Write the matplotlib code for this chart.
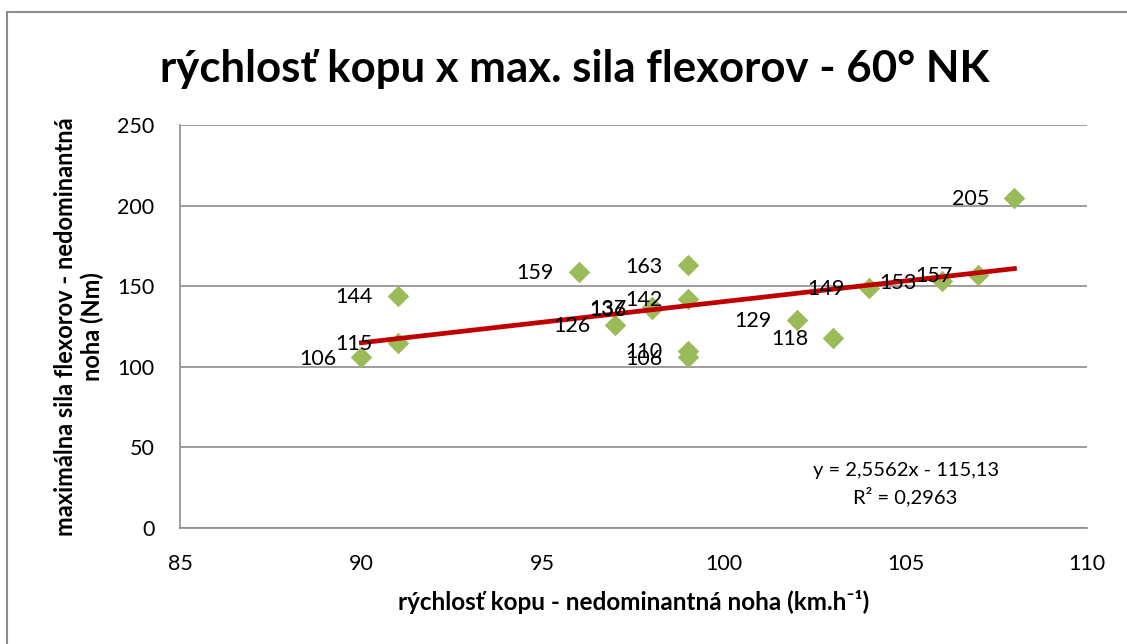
#!/usr/bin/env python3
# scatter: kick speed vs max flexor force, 60 deg, non-dominant leg

import numpy as np
import matplotlib.pyplot as plt
from matplotlib.patches import Rectangle

plt.rcParams['font.family'] = ['Lato', 'DejaVu Sans']

speed = [90, 91, 91, 96, 97, 98, 98, 99, 99, 99, 99, 102, 103, 104, 106, 107, 108]
force = [106, 115, 144, 159, 126, 136, 137, 142, 163, 110, 106, 129, 118, 149, 153, 157, 205]

title = "rýchlosť kopu x max. sila flexorov - 60° NK"
xlab = "rýchlosť kopu - nedominantná noha (km.h⁻¹)"
ylab = "maximálna sila flexorov - nedominantná\nnoha (Nm)"
eq_text = "y = 2,5562x - 115,13\nR² = 0,2963"

grid_col = "#8c8c8c"

fig = plt.figure(figsize=(11.27, 6.44), dpi=100)
ax = fig.add_axes([0.1597, 0.1801, 0.8048, 0.6258])

fig.patches.append(Rectangle((7 / 1127, -0.1), 1.2, 1 - 12 / 644 + 0.1,
                             transform=fig.transFigure, fill=False,
                             edgecolor="#8c8c8c", lw=1.5))

ax.scatter(speed, force, marker="D", s=120, color="#9BBB59", zorder=3, linewidths=0)

k, q = np.polyfit(speed, force, 1)
xs = np.array([min(speed), max(speed)])
ax.plot(xs, k * xs + q, color="#C00000", lw=3.4, zorder=4)

for x, y in zip(speed, force):
    ax.annotate(str(y), (x, y), xytext=(-18, -1), textcoords="offset points",
                ha="right", va="center", fontsize=15.5, zorder=5)

ax.text(105, 27, eq_text, ha="center", va="center", fontsize=14.5, linespacing=1.45)

ax.set_xlim(85, 110)
ax.set_ylim(0, 250)
ax.set_xticks(range(85, 111, 5))
ax.set_yticks(range(0, 251, 50))
ax.grid(axis="y", color=grid_col, lw=1.2)
ax.set_axisbelow(True)
for s in ["top", "right"]:
    ax.spines[s].set_visible(False)
for s in ["left", "bottom"]:
    ax.spines[s].set_color(grid_col)
    ax.spines[s].set_linewidth(1.2)
ax.tick_params(length=0, labelsize=15.5)
ax.tick_params(axis="y", pad=18.5)
ax.tick_params(axis="x", pad=19)

ax.set_xlabel(xlab, fontsize=17.5, fontweight="bold", labelpad=11)
ax.set_ylabel(ylab, fontsize=17, fontweight="bold", labelpad=9)
fig.text(0.51, 0.893, title, ha="center", va="center", fontsize=31.5, fontweight="bold")

fig.savefig("out.png", dpi=100)
